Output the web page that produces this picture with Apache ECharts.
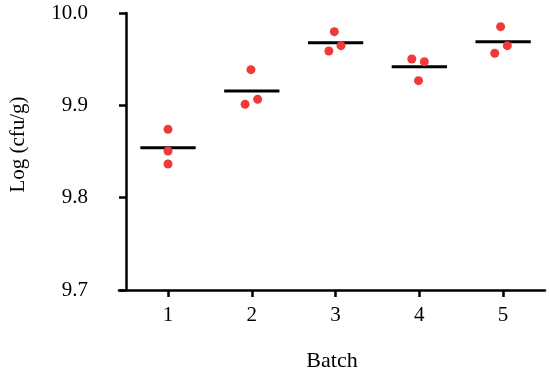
<!DOCTYPE html>
<html>
<head>
<meta charset="utf-8">
<script src="https://cdn.jsdelivr.net/npm/echarts@6/dist/echarts.min.js"></script>
<style>
html,body{margin:0;padding:0;background:#fff;}
#chart{width:550px;height:374px;}
</style>
</head>
<body>
<div id="chart"></div>
<script>
// Data
var batches = [1, 2, 3, 4, 5];
var tickLabelsX = ['1', '2', '3', '4', '5'];
var yTicks = [9.7, 9.8, 9.9, 10.0];
// individual replicate points: [x (with jitter), log cfu/g]
var pointsX = [1.00, 1.00, 1.00, 1.99, 2.07, 1.92, 2.985, 3.065, 2.92, 3.91, 4.06, 3.99, 4.97, 5.05, 4.90];
var pointsY = [9.874, 9.8505, 9.8365, 9.9386, 9.9065, 9.9011, 9.9798, 9.9646, 9.9589, 9.9502, 9.9473, 9.9267, 9.9852, 9.9646, 9.9564];
var meanValues = [9.854, 9.9155, 9.9678, 9.9417, 9.9689];
var meanHalfWidth = 0.33;

var points = pointsX.map(function (x, i) { return [x, pointsY[i]]; });

var series = [];
batches.forEach(function (b, i) {
  series.push({
    type: 'line',
    data: [[b - meanHalfWidth, meanValues[i]], [b + meanHalfWidth, meanValues[i]]],
    symbol: 'none',
    lineStyle: { color: '#000', width: 3 },
    silent: true,
    z: 2
  });
});
series.push({
  type: 'scatter',
  data: points,
  symbol: 'circle',
  symbolSize: 9,
  itemStyle: { color: '#f03a3a', opacity: 1 },
  z: 3
});

var font = 'Liberation Serif';
var chart = echarts.init(document.getElementById('chart'), null, { renderer: 'canvas' });
chart.setOption({
  animation: false,
  backgroundColor: '#fff',
  grid: { left: 119, right: 5, top: 13, bottom: 84, containLabel: false, outerBoundsMode: 'none' },
  xAxis: {
    type: 'value',
    min: 0.415,
    max: 5.5,
    name: 'Batch',
    nameLocation: 'middle',
    nameGap: 60,
    nameTextStyle: { fontFamily: font, fontSize: 22, color: '#000' },
    axisLine: { show: true, onZero: false, lineStyle: { color: '#000', width: 2.5 } },
    axisTick: { show: true, length: 7, lineStyle: { color: '#000', width: 2.5 }, customValues: batches },
    axisLabel: {
      customValues: batches,
      formatter: function (v) { return tickLabelsX[batches.indexOf(Math.round(v))] || ''; },
      fontFamily: font, fontSize: 21, color: '#000', margin: 15
    },
    splitLine: { show: false }
  },
  yAxis: {
    type: 'value',
    min: 9.7,
    max: 10.0,
    offset: -7,
    name: 'Log (cfu/g)',
    nameLocation: 'middle',
    nameGap: 97,
    nameTextStyle: { fontFamily: font, fontSize: 21, color: '#000', padding: [0, 0, 0, 14] },
    axisLine: { show: true, onZero: false, lineStyle: { color: '#000', width: 2.5 } },
    axisTick: { show: true, length: 7, lineStyle: { color: '#000', width: 2.5 }, customValues: yTicks },
    axisLabel: {
      customValues: yTicks,
      formatter: function (v) { return v.toFixed(1); },
      fontFamily: font, fontSize: 21, color: '#000', margin: 38
    },
    splitLine: { show: false }
  },
  series: series
});
</script>
</body>
</html>
